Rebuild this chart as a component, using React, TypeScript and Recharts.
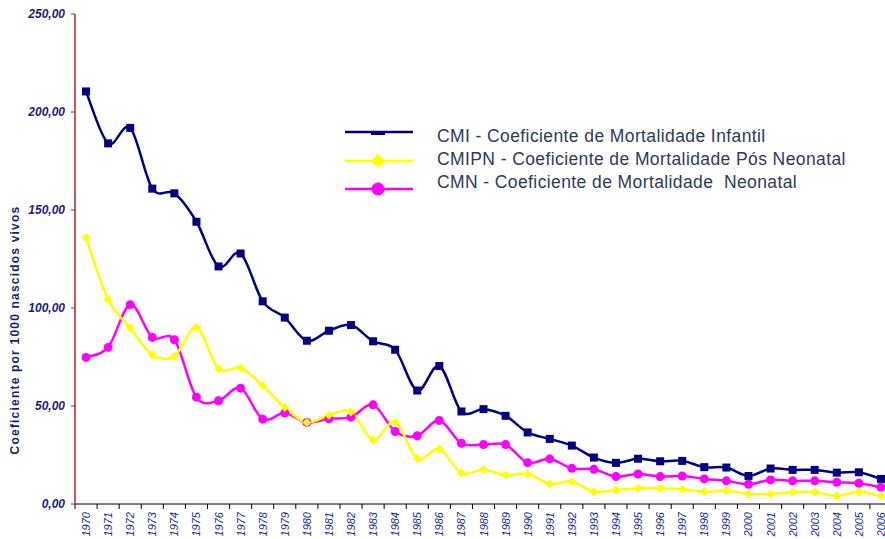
import React from 'react';
import { LineChart, Line, XAxis, YAxis, Legend } from 'recharts';

const years = [
  '1970', '1971', '1972', '1973', '1974', '1975', '1976', '1977', '1978', '1979',
  '1980', '1981', '1982', '1983', '1984', '1985', '1986', '1987', '1988', '1989',
  '1990', '1991', '1992', '1993', '1994', '1995', '1996', '1997', '1998', '1999',
  '2000', '2001', '2002', '2003', '2004', '2005', '2006',
];

const cmi = [
  210.5, 184, 191.9, 160.9, 158.5, 144, 121.2, 127.8, 103.4, 95.1,
  83.3, 88.4, 91.3, 83, 78.7, 57.9, 70.4, 47.2, 48.4, 45,
  36.5, 33.2, 29.8, 23.7, 21, 23.1, 21.8, 22, 18.8, 18.6,
  14.3, 18.1, 17.4, 17.4, 16, 16.2, 12.8,
];

const cmipn = [
  135.8, 104.3, 89.8, 76.2, 75.3, 90.1, 69, 69.4, 60.5, 49.2,
  41.6, 45.3, 46.9, 32.7, 41.8, 23.2, 28.1, 15.8, 17.5, 14.7,
  15.3, 10.3, 11.4, 6.3, 7.2, 8, 8, 7.5, 6.3, 6.8,
  5.1, 5.1, 6, 6, 4.1, 6.3, 4.1,
];

const cmn = [
  74.8, 79.9, 101.7, 85, 83.8, 54.5, 52.7, 59.1, 43.3, 46.4,
  41.6, 43.5, 44.3, 50.6, 37, 34.8, 42.6, 31, 30.3, 30.3,
  21.1, 23, 18.2, 17.7, 14, 15.3, 14, 14.3, 12.8, 11.8,
  10.1, 12.3, 11.8, 11.8, 11.1, 10.6, 8.5,
];

const yTicks = [0, 50, 100, 150, 200, 250];

const legendItems = [
  { key: 'cmi', label: 'CMI - Coeficiente de Mortalidade Infantil', color: '#000080' },
  { key: 'cmipn', label: 'CMIPN - Coeficiente de Mortalidade Pós Neonatal', color: '#ffff00' },
  { key: 'cmn', label: 'CMN - Coeficiente de Mortalidade  Neonatal', color: '#ff00ff' },
];

const data = years.map((year, i) => ({
  year,
  cmi: cmi[i],
  cmipn: cmipn[i],
  cmn: cmn[i],
}));

const FONT = '"Liberation Sans", Arial, sans-serif';
const NAVY = '#1c1c7c';

// curva suavizada parecida com a do Excel (Catmull-Rom)
const smoothCurve = (context: any) => {
  let pts: number[][] = [];
  return {
    areaStart() {},
    areaEnd() {},
    lineStart() {
      pts = [];
    },
    point(x: number, y: number) {
      pts.push([+x, +y]);
    },
    lineEnd() {
      if (!pts.length) return;
      context.moveTo(pts[0][0], pts[0][1]);
      for (let i = 0; i < pts.length - 1; i++) {
        const p0 = pts[i - 1] || pts[i];
        const p1 = pts[i];
        const p2 = pts[i + 1];
        const p3 = pts[i + 2] || p2;
        context.bezierCurveTo(
          p1[0] + (p2[0] - p0[0]) / 6,
          p1[1] + (p2[1] - p0[1]) / 6,
          p2[0] - (p3[0] - p1[0]) / 6,
          p2[1] - (p3[1] - p1[1]) / 6,
          p2[0],
          p2[1]
        );
      }
    },
  };
};

const SquareDot = (props: any) => {
  const { cx, cy, index } = props;
  return <rect key={`sq-${index}`} x={cx - 4} y={cy - 4} width={8} height={8} fill="#000080" />;
};

const DiamondDot = (props: any) => {
  const { cx, cy, index } = props;
  const s = 4.5;
  return (
    <polygon
      key={`dm-${index}`}
      points={`${cx},${cy - s} ${cx + s},${cy} ${cx},${cy + s} ${cx - s},${cy}`}
      fill="#ffff00"
    />
  );
};

const CircleDot = (props: any) => {
  const { cx, cy, index } = props;
  return <circle key={`ci-${index}`} cx={cx} cy={cy} r={4.5} fill="#ff00ff" />;
};

const YearTick = (props: any) => {
  const { x, y, payload } = props;
  const half = payload.offset ?? 11;
  return (
    <g>
      <line x1={x - half} y1={y - 5} x2={x - half} y2={y} stroke="#000" strokeWidth={1} />
      <text
        x={x + 4}
        y={y + 3}
        transform={`rotate(-90 ${x + 4} ${y + 3})`}
        textAnchor="end"
        fontSize={11}
        fontStyle="italic"
        fontFamily={FONT}
        fill="#1a2a9a"
      >
        {payload.value}
      </text>
    </g>
  );
};

const AxisTitle = () => (
  <text
    x={19}
    y={330}
    transform="rotate(-90 19 330)"
    textAnchor="middle"
    fontSize={12}
    fontWeight="bold"
    letterSpacing={1.2}
    fontFamily={FONT}
    fill={NAVY}
  >
    Coeficiente por 1000 nascidos vivos
  </text>
);

const renderLegend = () => {
  const lineY = [22, 51, 79];
  const textY = [32, 55, 78];
  return (
    <svg width={550} height={92} style={{ display: 'block' }}>
      {legendItems.map((item, i) => (
        <g key={item.key}>
          <line x1={15} y1={lineY[i]} x2={83} y2={lineY[i]} stroke={item.color} strokeWidth={2.5} />
          {i === 0 && <rect x={41} y={lineY[i]} width={14} height={3} fill={item.color} />}
          {i === 1 && (
            <polygon
              points={`48,${lineY[i] - 7} 55,${lineY[i]} 48,${lineY[i] + 7} 41,${lineY[i]}`}
              fill={item.color}
            />
          )}
          {i === 2 && <circle cx={48} cy={lineY[i]} r={6.5} fill={item.color} />}
          <text
            x={107}
            y={textY[i]}
            fontSize={17.5}
            letterSpacing={0.4}
            fontFamily={FONT}
            fill="#2e3a59"
            style={{ whiteSpace: 'pre' }}
          >
            {item.label}
          </text>
        </g>
      ))}
    </svg>
  );
};

export default function App() {
  return (
    <div
      style={{
        position: 'fixed',
        left: 0,
        top: 0,
        width: 885,
        height: 539,
        overflow: 'hidden',
        background: '#fff',
      }}
    >
      <LineChart width={900} height={539} data={data} margin={{ top: 14, right: 8, bottom: 0, left: 0 }}>
        <XAxis
          dataKey="year"
          scale="band"
          interval={0}
          height={35}
          tickSize={5}
          tickMargin={0}
          tickLine={false}
          axisLine={{ stroke: '#000', strokeWidth: 1 }}
          tick={<YearTick />}
        />
        <YAxis
          width={75}
          domain={[0, 250]}
          ticks={yTicks}
          tickSize={4}
          tickMargin={6}
          axisLine={{ stroke: '#9b2d2d', strokeWidth: 1.5 }}
          tickLine={{ stroke: '#9b2d2d' }}
          tickFormatter={(v: number) => v.toFixed(2).replace('.', ',')}
          tick={{ fontSize: 12, fontStyle: 'italic', fontWeight: 'bold', fill: NAVY, fontFamily: FONT }}
          label={<AxisTitle />}
        />
        <Legend
          layout="vertical"
          align="center"
          verticalAlign="middle"
          wrapperStyle={{ left: 330, top: 110, width: 550 }}
          content={renderLegend}
        />
        <Line
          dataKey="cmi"
          type={smoothCurve as any}
          stroke="#000080"
          strokeWidth={2.5}
          dot={SquareDot}
          activeDot={false}
          isAnimationActive={false}
        />
        <Line
          dataKey="cmn"
          type={smoothCurve as any}
          stroke="#ff00ff"
          strokeWidth={2.5}
          dot={CircleDot}
          activeDot={false}
          isAnimationActive={false}
        />
        <Line
          dataKey="cmipn"
          type={smoothCurve as any}
          stroke="#ffff00"
          strokeWidth={2.5}
          dot={DiamondDot}
          activeDot={false}
          isAnimationActive={false}
        />
      </LineChart>
    </div>
  );
}
